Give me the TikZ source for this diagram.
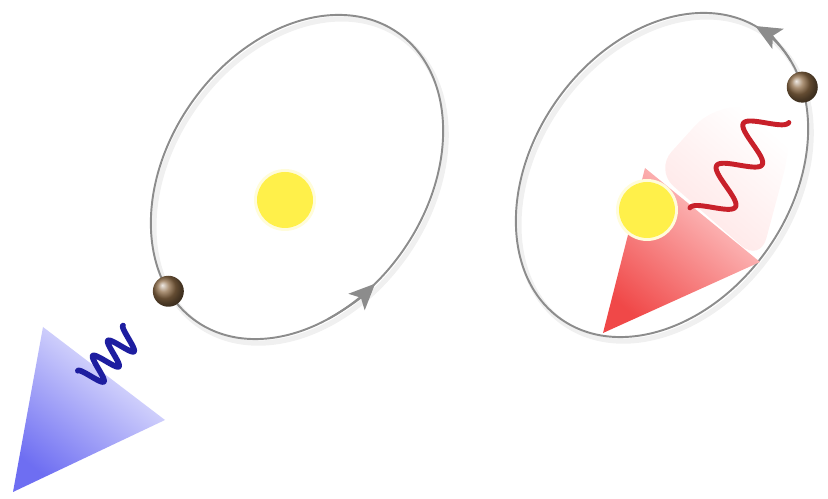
\documentclass[tikz,border=0pt]{standalone}
\usetikzlibrary{arrows.meta}
\definecolor{orbitgray}{HTML}{8C8C8C}
\definecolor{sunyellow}{HTML}{FFF04A}
\definecolor{planetbrown}{HTML}{8E6C47}
\definecolor{blueline}{HTML}{1E1EA0}
\definecolor{bluedeep}{HTML}{6E6EF2}
\definecolor{bluepale}{HTML}{F0F0FF}
\definecolor{redline}{HTML}{C8202A}
\definecolor{reddeep}{HTML}{F04848}
\definecolor{redpale}{HTML}{FFD0D0}

\begin{document}
\begin{tikzpicture}[
    x=0.02cm, y=0.02cm,
    orbit/.style={
        draw=orbitgray,
        line width=1.1pt
    },
    orbitshadow/.style={
        draw=black!6,
        line width=3pt
    },
    orbitarrow/.style={
        draw=orbitgray,
        fill=orbitgray,
        line width=1.1pt,
        -{Stealth[length=5.2mm, width=4.6mm, inset=1.2mm]}
    },
    sun/.style={
        circle,
        fill=sunyellow,
        minimum size=11.2mm,
        inner sep=0pt
    },
    planet/.style={
        circle,
        ball color=planetbrown,
        minimum size=6.2mm,
        inner sep=0pt
    },
    bluewave/.style={
        draw=blueline,
        line width=3.2pt,
        line cap=round
    },
    redwave/.style={
        draw=redline,
        line width=2.8pt,
        line cap=round
    }
]
\useasboundingbox (0,0) rectangle (828,499);

% ------------------------------------------------
% Blue beam (left)
% ------------------------------------------------
\coordinate (btip) at (13,7);
\coordinate (btop) at (43,172);
\coordinate (bright) at (165,79);
\shade[top color=bluepale, bottom color=bluedeep, shading angle=-38]
    (btip) -- (btop) -- (bright) -- cycle;
\draw[bluewave, shift={(87,119)}, rotate=45]
    plot[domain=0:64, samples=160, smooth] (\x, {13*cos(\x/64*6*180)});

% ------------------------------------------------
% Left orbit
% ------------------------------------------------
\draw[orbitshadow] (300,318) [rotate around={55:(300,318)}] ellipse (176 and 129);
\begin{scope}[shift={(297,322)}, rotate=55]
  \draw[orbit] (0,0) ellipse (176 and 129);
  \draw[orbitarrow] (236:176 and 129) arc[start angle=236, end angle=256, x radius=176, y radius=129];
  \node[planet] (planetL) at (162:176 and 129) {};
\end{scope}

\fill[sunyellow!20] (285,299) circle (31);
\node[sun] (sunL) at (285,299) {};

% ------------------------------------------------
% Right orbit
% ------------------------------------------------
\draw[orbitshadow] (665,320) [rotate around={55:(665,320)}] ellipse (176 and 129);
\begin{scope}[shift={(662,324)}, rotate=55]
  \draw[orbit] (0,0) ellipse (176 and 129);
  \draw[orbitarrow] (342:176 and 129) arc[start angle=342, end angle=364, x radius=176, y radius=129];
\end{scope}

% ------------------------------------------------
% Red beam (right)
% ------------------------------------------------
\shade[top color=white, bottom color=redpale!60, shading angle=-40, rounded corners=14]
    (655,329) -- (712,392) -- (790,392) -- (790,349) -- (760,237) -- cycle;
\coordinate (rtip) at (603,166);
\coordinate (rtop) at (645,331);
\coordinate (rright) at (760,237);
\shade[top color=redpale, bottom color=reddeep, shading angle=-40]
    (rtip) -- (rtop) -- (rright) -- cycle;

\fill[sunyellow!20] (647,289) circle (31);
\node[sun] (sunR) at (647,289) {};

\draw[redwave, shift={(706,281)}, rotate=57.7]
    plot[domain=0:125, samples=170, smooth] (\x, {19*cos(\x/125*5*180)});

\begin{scope}[shift={(662,324)}, rotate=55]
  \node[planet] (planetR) at (330:176 and 129) {};
\end{scope}

\end{tikzpicture}
\end{document}
